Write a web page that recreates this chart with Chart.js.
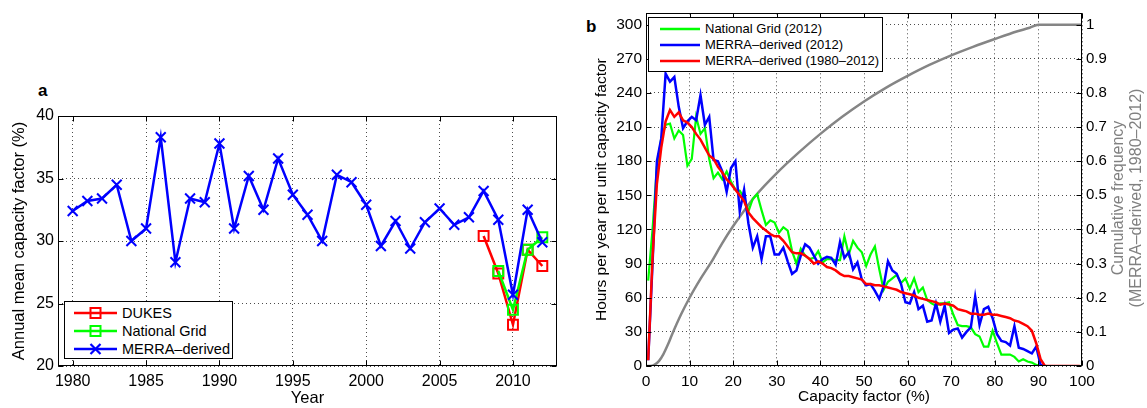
<!DOCTYPE html>
<html>
<head>
<meta charset="utf-8">
<script src="https://cdn.jsdelivr.net/npm/chart.js@4.4.1/dist/chart.umd.min.js"></script>
<style>
  body { margin: 0; background: #fff; width: 1147px; height: 408px; position: relative; overflow: hidden;
         font-family: "Liberation Sans", Arial, sans-serif; }
  canvas { position: absolute; top: 0; }
  #chartA { left: 0; }
  #chartB { left: 575px; }
  .tag { position: absolute; font-weight: bold; font-size: 17px; line-height: 17px; }
  .legend { position: absolute; border: 1px solid #000; background: #fff; box-sizing: border-box; }
  .legend .row { position: absolute; left: 0; white-space: nowrap; }
  .legend svg { position: absolute; left: 0; top: 0; }
  .legend span { position: absolute; }
  #rightTitle { position: absolute; left: 1126.5px; top: 197.5px; width: 260px; color: #808080;
                font-size: 16px; line-height: 18px; text-align: center; white-space: nowrap;
                transform: translate(-50%, -50%) rotate(-90deg); }
</style>
</head>
<body>
<div class="tag" style="left:38px;top:82px;">a</div>
<div class="tag" style="left:586px;top:18px;">b</div>
<canvas id="chartA" width="575" height="408"></canvas>
<canvas id="chartB" width="572" height="408"></canvas>
<div id="legendA" class="legend" style="left:64px;top:301px;width:169px;height:58px;"></div>
<div id="legendB" class="legend" style="left:648px;top:17px;width:235px;height:55px;"></div>
<div id="rightTitle">Cumulative frequency<br>(MERRA–derived, 1980–2012)</div>

<script>
// Panel a: annual mean capacity factor (%)
const years = [1980, 1981, 1982, 1983, 1984, 1985, 1986, 1987, 1988, 1989, 1990, 1991, 1992, 1993, 1994,
  1995, 1996, 1997, 1998, 1999, 2000, 2001, 2002, 2003, 2004, 2005, 2006, 2007, 2008, 2009, 2010, 2011, 2012];
const merraAnnual = [32.4, 33.2, 33.4, 34.5, 30.0, 31.0, 38.3, 28.3, 33.4, 33.1, 37.8, 31.0, 35.2, 32.5, 36.6,
  33.7, 32.1, 30.0, 35.3, 34.7, 32.9, 29.6, 31.6, 29.4, 31.5, 32.6, 31.3, 31.9, 34.0, 31.7, 25.7, 32.5, 29.9];
const dukesYears = [2008, 2009, 2010, 2011, 2012];
const dukesAnnual = [30.4, 27.4, 23.3, 29.3, 28.0];
const gridYears = [2009, 2010, 2011, 2012];
const gridAnnual = [27.6, 24.5, 29.3, 30.3];
const yearTicks = [1980, 1985, 1990, 1995, 2000, 2005, 2010];
const cfTicksA = [20, 25, 30, 35, 40];

// Panel b: hours per year per unit capacity factor, 1% bins
const cfBins = [0.5, 1.5, 2.5, 3.5, 4.5, 5.5, 6.5, 7.5, 8.5, 9.5, 10.5, 11.5, 12.5, 13.5, 14.5, 15.5, 16.5,
  17.5, 18.5, 19.5, 20.5, 21.5, 22.5, 23.5, 24.5, 25.5, 26.5, 27.5, 28.5, 29.5, 30.5, 31.5, 32.5, 33.5, 34.5,
  35.5, 36.5, 37.5, 38.5, 39.5, 40.5, 41.5, 42.5, 43.5, 44.5, 45.5, 46.5, 47.5, 48.5, 49.5, 50.5, 51.5, 52.5,
  53.5, 54.5, 55.5, 56.5, 57.5, 58.5, 59.5, 60.5, 61.5, 62.5, 63.5, 64.5, 65.5, 66.5, 67.5, 68.5, 69.5, 70.5,
  71.5, 72.5, 73.5, 74.5, 75.5, 76.5, 77.5, 78.5, 79.5, 80.5, 81.5, 82.5, 83.5, 84.5, 85.5, 86.5, 87.5, 88.5,
  89.5, 90.5, 91.5, 92.5, 93.5, 94.5, 95.5, 96.5, 97.5, 98.5, 99.5];
const gridHours2012 = [75, 120, 175, 200, 212, 213, 200, 207, 203, 176, 182, 219, 204, 209, 182, 165, 170,
  164, 171, 162, 155, 154, 148, 136, 147, 151, 137, 124, 128, 126, 117, 122, 119, 101, 90,
  103, 97, 94, 95, 101, 91, 94, 94, 93, 93, 114, 98, 110, 104, 100, 88, 98, 105,
  85, 67, 74, 77, 80, 73, 77, 68, 77, 65, 69, 58, 55, 53, 55, 55, 56, 45,
  36, 35, 35, 34, 28, 26, 17, 17, 31, 20, 10, 10, 10, 8, 4, 6, 4, 3,
  1, 0, 0];
const merraHours2012 = [5, 90, 180, 200, 257, 250, 254, 228, 209, 215, 219, 216, 238, 212, 219, 181, 180,
  171, 153, 174, 180, 136, 155, 125, 104, 114, 94, 114, 114, 98, 98, 104, 92, 81, 84,
  97, 107, 104, 97, 90, 94, 96, 95, 89, 109, 95, 100, 85, 91, 76, 71, 72, 66,
  59, 70, 92, 84, 81, 72, 56, 55, 65, 50, 53, 39, 40, 55, 39, 53, 29, 32,
  33, 25, 30, 34, 61, 36, 50, 52, 42, 28, 22, 21, 18, 35, 16, 15, 13, 11,
  17, 1, 0];
const merraHoursAll = [5, 95, 160, 192, 215, 225, 219, 223, 216, 214, 210, 204, 199, 192, 185, 182, 175,
  170, 164, 160, 155, 150, 145, 135, 130, 126, 122, 119, 116, 114, 114, 110, 105, 100, 99,
  99, 97, 94, 90, 92, 90, 87, 86, 84, 81, 79, 79, 78, 77, 76, 72, 72, 71,
  71, 70, 69, 68, 67, 65, 64, 63, 62, 60, 59, 58, 57, 56, 54, 55, 54, 53,
  50, 49, 48, 46, 46, 45, 45, 46, 45, 45, 44, 43, 42, 40, 39, 37, 35, 31,
  20, 6, 0, 0, 0, 0, 0, 0, 0, 0, 0];
const cumCf = [0, 1, 2, 3, 4, 5, 6, 8, 10, 12.5, 15, 17.5, 20, 22.5, 25, 30, 35, 40, 45, 50, 55, 60, 65,
  70, 75, 80, 85, 88, 90, 100];
const cumFreq = [0, 0, 0.004, 0.015, 0.035, 0.062, 0.093, 0.15, 0.2, 0.255, 0.305, 0.36, 0.41, 0.455, 0.497,
  0.565, 0.625, 0.68, 0.73, 0.775, 0.815, 0.85, 0.882, 0.91, 0.935, 0.958, 0.98, 0.991, 1, 1];
const cfTicksB = [0, 10, 20, 30, 40, 50, 60, 70, 80, 90, 100];
const hourTicks = [0, 30, 60, 90, 120, 150, 180, 210, 240, 270, 300];
const freqTicks = [0, 0.1, 0.2, 0.3, 0.4, 0.5, 0.6, 0.7, 0.8, 0.9, 1];

const FONT = '"Liberation Sans", Arial, sans-serif';
const pairs = (xs, ys) => ys.map((v, i) => ({ x: xs[i], y: v }));
const fixTicks = list => scale => { scale.ticks = list.map(v => ({ value: v })); };

// MATLAB-like box with inward tick marks
const boxPlugin = {
  id: 'matlabBox',
  afterDatasetsDraw(chart, args, opts) {
    const { ctx, chartArea: a } = chart;
    const L = Math.round(a.left) + 0.5, R = Math.round(a.right) - 0.5;
    const T = Math.round(a.top) + 0.5, B = Math.round(a.bottom) - 0.5;
    ctx.save();
    ctx.strokeStyle = '#000';
    ctx.lineWidth = 1;
    ctx.strokeRect(L, T, R - L, B - T);
    ctx.beginPath();
    const xs = chart.scales.x;
    xs.ticks.forEach(t => {
      const p = Math.round(xs.getPixelForValue(t.value)) + 0.5;
      ctx.moveTo(p, B); ctx.lineTo(p, B - 5);
      ctx.moveTo(p, T); ctx.lineTo(p, T + 5);
    });
    const yl = chart.scales[opts.left], yr = chart.scales[opts.right];
    yl.ticks.forEach(t => {
      const p = Math.round(yl.getPixelForValue(t.value)) + 0.5;
      ctx.moveTo(L, p); ctx.lineTo(L + 5, p);
    });
    yr.ticks.forEach(t => {
      const p = Math.round(yr.getPixelForValue(t.value)) + 0.5;
      ctx.moveTo(R, p); ctx.lineTo(R - 5, p);
    });
    ctx.stroke();
    ctx.restore();
  }
};

const gridStyle = { color: 'rgba(0,0,0,0.7)', lineWidth: 1, drawTicks: false };
const dotted = { display: false, dash: [1, 3] };

// Panel a
new Chart(document.getElementById('chartA'), {
  type: 'line',
  data: {
    datasets: [
      { label: 'MERRA–derived', data: pairs(years, merraAnnual), borderColor: '#0000ff', borderWidth: 2.5,
        pointStyle: 'crossRot', pointRadius: 7, pointBorderWidth: 2, pointBorderColor: '#0000ff' },
      { label: 'National Grid', data: pairs(gridYears, gridAnnual), borderColor: '#00ff00', borderWidth: 2.5,
        pointStyle: 'rect', pointRadius: 7, pointBorderWidth: 2, pointBorderColor: '#00ff00',
        pointBackgroundColor: 'rgba(0,0,0,0)' },
      { label: 'DUKES', data: pairs(dukesYears, dukesAnnual), borderColor: '#ff0000', borderWidth: 2.5,
        pointStyle: 'rect', pointRadius: 7, pointBorderWidth: 2, pointBorderColor: '#ff0000',
        pointBackgroundColor: 'rgba(0,0,0,0)' }
    ]
  },
  options: {
    responsive: false, animation: false,
    layout: { padding: { top: 116, right: 18, left: 0, bottom: 0 } },
    plugins: { legend: { display: false }, tooltip: { enabled: false }, matlabBox: { left: 'y', right: 'y' } },
    scales: {
      x: {
        type: 'linear', min: 1979, max: 2013,
        afterBuildTicks: fixTicks(yearTicks),
        afterFit: s => { s.height = 42; },
        grid: gridStyle, border: dotted,
        ticks: { color: '#000', padding: 6, font: { family: FONT, size: 16 }, callback: v => String(v) },
        title: { display: true, text: 'Year', color: '#000', padding: { top: 0, bottom: 0 },
                 font: { family: FONT, size: 16.5 } }
      },
      y: {
        min: 20, max: 40,
        afterBuildTicks: fixTicks(cfTicksA),
        afterFit: s => { s.width = 58; },
        grid: gridStyle, border: dotted,
        ticks: { color: '#000', padding: 4, font: { family: FONT, size: 16 } },
        title: { display: true, text: 'Annual mean capacity factor (%)', color: '#000',
                 padding: { top: 10, bottom: 0 }, font: { family: FONT, size: 16.5 } }
      }
    }
  },
  plugins: [boxPlugin]
});

// Panel b
new Chart(document.getElementById('chartB'), {
  type: 'line',
  data: {
    datasets: [
      { label: 'MERRA–derived (1980–2012)', data: pairs(cfBins, merraHoursAll), borderColor: '#ff0000',
        borderWidth: 2.5, pointRadius: 0, yAxisID: 'y' },
      { label: 'MERRA–derived (2012)', data: pairs(cfBins, merraHours2012), borderColor: '#0000ff',
        borderWidth: 2.5, pointRadius: 0, yAxisID: 'y' },
      { label: 'National Grid (2012)', data: pairs(cfBins, gridHours2012), borderColor: '#00ff00',
        borderWidth: 2.2, pointRadius: 0, yAxisID: 'y' },
      { label: 'Cumulative frequency', data: pairs(cumCf, cumFreq), borderColor: '#858585',
        borderWidth: 2.5, pointRadius: 0, cubicInterpolationMode: 'monotone', yAxisID: 'y2' }
    ]
  },
  options: {
    responsive: false, animation: false,
    layout: { padding: { top: 12, right: 0, left: 0, bottom: 0 } },
    plugins: { legend: { display: false }, tooltip: { enabled: false }, matlabBox: { left: 'y', right: 'y2' } },
    scales: {
      x: {
        type: 'linear', min: 0, max: 100,
        afterBuildTicks: fixTicks(cfTicksB),
        afterFit: s => { s.height = 42; },
        grid: gridStyle, border: dotted,
        ticks: { color: '#000', padding: 6, font: { family: FONT, size: 15.5 } },
        title: { display: true, text: 'Capacity factor (%)', color: '#000', padding: { top: 0, bottom: 2 },
                 font: { family: FONT, size: 15.5 } }
      },
      y: {
        position: 'left', min: 0, max: 310,
        afterBuildTicks: fixTicks(hourTicks),
        afterFit: s => { s.width = 71; },
        grid: gridStyle, border: dotted,
        ticks: { color: '#000', padding: 4, font: { family: FONT, size: 15.5 } },
        title: { display: true, text: 'Hours per year per unit capacity factor', color: '#000',
                 padding: { top: 17, bottom: 0 }, font: { family: FONT, size: 15.5 } }
      },
      y2: {
        position: 'right', min: 0, max: 310 / 300,
        afterBuildTicks: fixTicks(freqTicks),
        afterFit: s => { s.width = 65; },
        grid: { display: false, drawTicks: false }, border: { display: false },
        ticks: { color: '#000', padding: 4, font: { family: FONT, size: 15 }, callback: v => String(v) }
      }
    }
  },
  plugins: [boxPlugin]
});

// HTML legends inside the axes
const legendA = [
  { text: 'DUKES', color: '#ff0000', marker: 'square' },
  { text: 'National Grid', color: '#00ff00', marker: 'square' },
  { text: 'MERRA–derived', color: '#0000ff', marker: 'cross' }
];
const legendB = [
  { text: 'National Grid (2012)', color: '#00ff00', marker: null },
  { text: 'MERRA–derived (2012)', color: '#0000ff', marker: null },
  { text: 'MERRA–derived (1980–2012)', color: '#ff0000', marker: null }
];

function buildLegend(el, items, cfg) {
  items.forEach((it, i) => {
    const cy = cfg.firstRow + i * cfg.rowGap;
    const row = document.createElement('div');
    row.className = 'row';
    row.style.top = (cy - 10) + 'px';
    row.style.height = '20px';
    let m = '';
    const mx = (cfg.x1 + cfg.x2) / 2;
    if (it.marker === 'square') {
      m = `<rect x="${mx - 5}" y="5" width="10" height="10" fill="none" stroke="${it.color}" stroke-width="2"/>`;
    } else if (it.marker === 'cross') {
      m = `<path d="M${mx - 5} 5 L${mx + 5} 15 M${mx - 5} 15 L${mx + 5} 5" stroke="${it.color}" stroke-width="2.2"/>`;
    }
    row.innerHTML =
      `<svg width="${cfg.x2 + 4}" height="20"><line x1="${cfg.x1}" y1="10" x2="${cfg.x2}" y2="10" ` +
      `stroke="${it.color}" stroke-width="${cfg.lw}"/>${m}</svg>` +
      `<span style="left:${cfg.textX}px;top:0;font-size:${cfg.size}px;line-height:20px;">${it.text}</span>`;
    el.appendChild(row);
  });
}
buildLegend(document.getElementById('legendA'), legendA,
  { firstRow: 11, rowGap: 18, x1: 9, x2: 52, textX: 57, size: 14.5, lw: 2.5 });
buildLegend(document.getElementById('legendB'), legendB,
  { firstRow: 11, rowGap: 16, x1: 11, x2: 51, textX: 56, size: 13, lw: 2.5 });
</script>
</body>
</html>
